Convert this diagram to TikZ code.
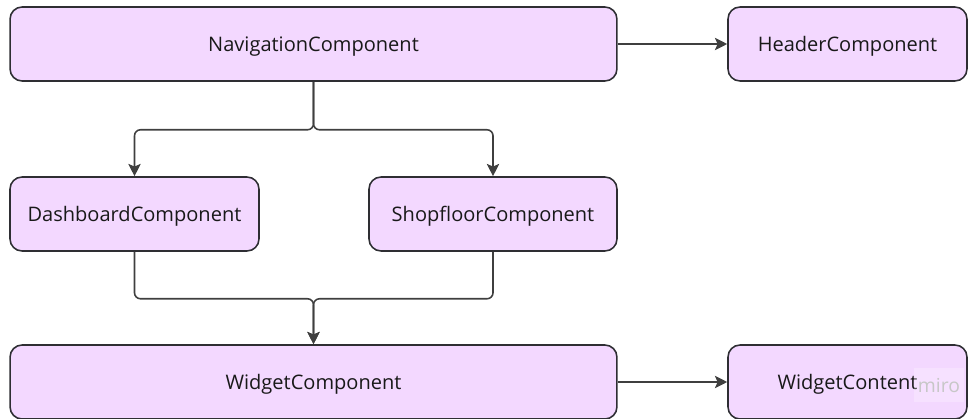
\documentclass[tikz,border=0pt]{standalone}
\usepackage{fontspec}
\setmainfont{Open Sans}
\usetikzlibrary{arrows.meta,positioning}
\definecolor{boxfill}{HTML}{F3D8FF}
\definecolor{boxline}{HTML}{2E2E33}
\definecolor{linkline}{HTML}{3F3F3F}
\begin{document}
\begin{tikzpicture}[x=0.02cm,y=-0.02cm]
    \tikzstyle{comp} = [draw=boxline,fill=boxfill,line width=0.9pt,rounded corners=0.24cm,
                        minimum height=1.48cm,inner sep=0pt,text=black!90,
                        text height=9pt,text depth=0pt,
                        font=\fontsize{11.4}{13}\selectfont]
    \tikzstyle{link} = [draw=linkline,line width=0.9pt,rounded corners=0.12cm,
                        -{Stealth[length=7pt,width=7pt,inset=1.5pt]}]

    \useasboundingbox (0,0) rectangle (968,419);

    % top row
    \node[comp,minimum width=12.14cm] (nav) at (313.5,44) {NavigationComponent};
    \node[comp,minimum width=4.78cm] (header) at (847.5,44) {HeaderComponent};

    % middle row
    \node[comp,minimum width=4.98cm] (dash) at (134.5,214) {DashboardComponent};
    \node[comp,minimum width=4.96cm] (shop) at (493,214) {ShopfloorComponent};

    % bottom row
    \node[comp,minimum width=12.14cm] (widget) at (313.5,382) {WidgetComponent};
    \node[comp,minimum width=4.78cm] (content) at (847.5,382) {WidgetContent};
    \node[fill=white,fill opacity=0.25,text opacity=1,text=black!22,inner sep=2pt,
          minimum width=0.9cm,minimum height=0.7cm,
          font=\fontsize{11}{12}\selectfont] (mark) at (939,385) {miro};

    \draw[link] (nav) -- (header);
    \draw[link] (widget) -- (content);

    \draw[link] (nav.south) -- ++(0,48) -| (dash.north);
    \draw[link] (nav.south) -- ++(0,48) -| (shop.north);

    \draw[link] (dash.south) -- ++(0,47) -| (widget.north);
    \draw[link] (shop.south) -- ++(0,47) -| (widget.north);
\end{tikzpicture}
\end{document}
